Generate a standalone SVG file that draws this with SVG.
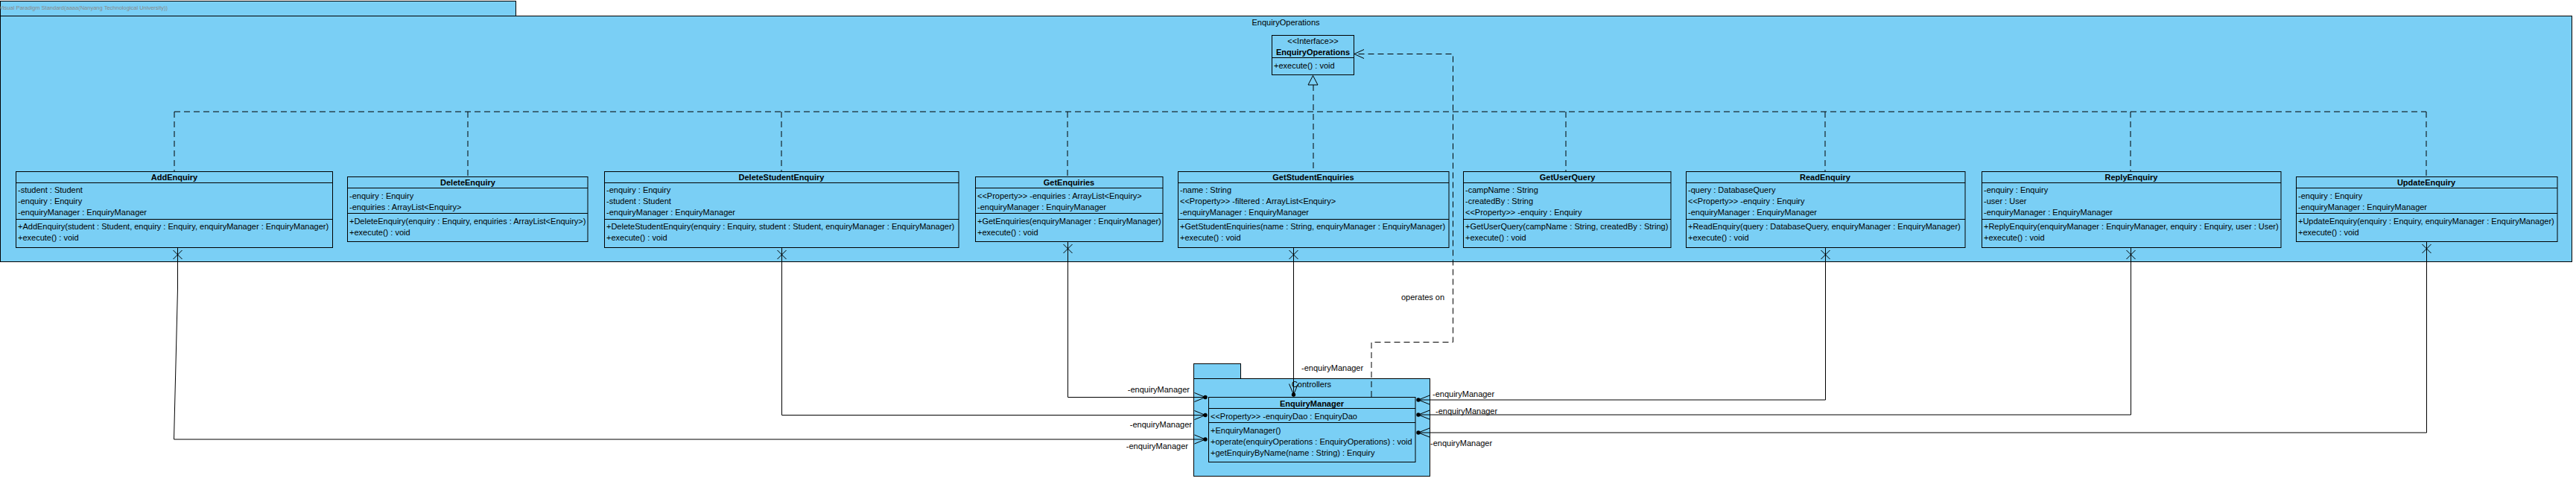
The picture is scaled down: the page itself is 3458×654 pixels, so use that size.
<svg xmlns="http://www.w3.org/2000/svg" width="3458" height="654" viewBox="0 0 3458 654">
<style>
.bg{fill:#fff}
.box{fill:#7ACFF5;stroke:#000;stroke-width:1}
.sep{stroke:#000;stroke-width:1}
.t{font-family:"Liberation Sans",Arial,sans-serif;font-size:11px;fill:#000}
.b{font-weight:bold}
.m{text-anchor:middle}
.e{text-anchor:end}
.wm{font-family:"Liberation Sans",Arial,sans-serif;font-size:7.5px;fill:#8a8a8a}
.ln{stroke:#000;stroke-width:1;fill:none}
.dash{stroke:#000;stroke-width:1;fill:none;stroke-dasharray:8 5}
.dot{fill:#000}
</style>
<rect class="bg" x="0" y="0" width="3458" height="654"/>

<g id="pkg-EnquiryOperations">
<rect class="box" x="0.5" y="1.5" width="692" height="20"/>
<text class="wm" x="-1" y="13">Visual Paradigm Standard(aaaa(Nanyang Technological University))</text>
<rect class="box" x="0.5" y="21.5" width="3452" height="330"/>
<text class="t m" x="1726" y="34">EnquiryOperations</text>
</g>

<g id="connectors-realization">
<path class="dash" d="M234,150 H3257"/>
<path class="dash" d="M234,150 V230 M628,150 V237.5 M1049,150 V230 M1433,150 V237.5 M1763,114 V230 M2102,150 V230 M2450,150 V230 M2860,150 V230 M3257,150 V237.5"/>
<path class="box" d="M1762.5,101.5 L1756,114 H1769 Z"/>
</g>

<g id="EnquiryOperationsInterface">
<rect class="box" x="1707.5" y="47.5" width="110" height="53"/>
<line class="sep" x1="1707.5" y1="77.5" x2="1817.5" y2="77.5"/>
<text class="t m" x="1762.5" y="59">&lt;&lt;Interface&gt;&gt;</text>
<text class="t m b" x="1762.5" y="74">EnquiryOperations</text>
<text class="t" x="1710" y="91.5">+execute() : void</text>
</g>

<g id="AddEnquiry">
<rect class="box" x="21.5" y="230.5" width="425" height="102"/>
<line class="sep" x1="21.5" y1="245.5" x2="446.5" y2="245.5"/>
<line class="sep" x1="21.5" y1="294.5" x2="446.5" y2="294.5"/>
<text class="t m b" x="234" y="242">AddEnquiry</text>
<text class="t" x="24" y="259">-student : Student</text>
<text class="t" x="24" y="274">-enquiry : Enquiry</text>
<text class="t" x="24" y="289">-enquiryManager : EnquiryManager</text>
<text class="t" x="24" y="308">+AddEnquiry(student : Student, enquiry : Enquiry, enquiryManager : EnquiryManager)</text>
<text class="t" x="24" y="323">+execute() : void</text>
</g>

<g id="DeleteEnquiry">
<rect class="box" x="466.5" y="237.5" width="322.5" height="87"/>
<line class="sep" x1="466.5" y1="252.5" x2="789" y2="252.5"/>
<line class="sep" x1="466.5" y1="286.5" x2="789" y2="286.5"/>
<text class="t m b" x="628" y="249">DeleteEnquiry</text>
<text class="t" x="469" y="266.5">-enquiry : Enquiry</text>
<text class="t" x="469" y="281.5">-enquiries : ArrayList&lt;Enquiry&gt;</text>
<text class="t" x="469" y="300.5">+DeleteEnquiry(enquiry : Enquiry, enquiries : ArrayList&lt;Enquiry&gt;)</text>
<text class="t" x="469" y="315.5">+execute() : void</text>
</g>

<g id="DeleteStudentEnquiry">
<rect class="box" x="811.5" y="230.5" width="475.5" height="102"/>
<line class="sep" x1="811.5" y1="245.5" x2="1287" y2="245.5"/>
<line class="sep" x1="811.5" y1="294.5" x2="1287" y2="294.5"/>
<text class="t m b" x="1049" y="242">DeleteStudentEnquiry</text>
<text class="t" x="814" y="259">-enquiry : Enquiry</text>
<text class="t" x="814" y="274">-student : Student</text>
<text class="t" x="814" y="289">-enquiryManager : EnquiryManager</text>
<text class="t" x="814" y="308">+DeleteStudentEnquiry(enquiry : Enquiry, student : Student, enquiryManager : EnquiryManager)</text>
<text class="t" x="814" y="323">+execute() : void</text>
</g>

<g id="GetEnquiries">
<rect class="box" x="1309.5" y="237.5" width="251.5" height="87"/>
<line class="sep" x1="1309.5" y1="252.5" x2="1561" y2="252.5"/>
<line class="sep" x1="1309.5" y1="286.5" x2="1561" y2="286.5"/>
<text class="t m b" x="1435" y="249">GetEnquiries</text>
<text class="t" x="1312" y="266.5">&lt;&lt;Property&gt;&gt; -enquiries : ArrayList&lt;Enquiry&gt;</text>
<text class="t" x="1312" y="281.5">-enquiryManager : EnquiryManager</text>
<text class="t" x="1312" y="300.5">+GetEnquiries(enquiryManager : EnquiryManager)</text>
<text class="t" x="1312" y="315.5">+execute() : void</text>
</g>

<g id="GetStudentEnquiries">
<rect class="box" x="1581.5" y="230.5" width="363.5" height="102"/>
<line class="sep" x1="1581.5" y1="245.5" x2="1945" y2="245.5"/>
<line class="sep" x1="1581.5" y1="294.5" x2="1945" y2="294.5"/>
<text class="t m b" x="1763" y="242">GetStudentEnquiries</text>
<text class="t" x="1584" y="259">-name : String</text>
<text class="t" x="1584" y="274">&lt;&lt;Property&gt;&gt; -filtered : ArrayList&lt;Enquiry&gt;</text>
<text class="t" x="1584" y="289">-enquiryManager : EnquiryManager</text>
<text class="t" x="1584" y="308">+GetStudentEnquiries(name : String, enquiryManager : EnquiryManager)</text>
<text class="t" x="1584" y="323">+execute() : void</text>
</g>

<g id="GetUserQuery">
<rect class="box" x="1964.5" y="230.5" width="278.5" height="102"/>
<line class="sep" x1="1964.5" y1="245.5" x2="2243" y2="245.5"/>
<line class="sep" x1="1964.5" y1="294.5" x2="2243" y2="294.5"/>
<text class="t m b" x="2104" y="242">GetUserQuery</text>
<text class="t" x="1967" y="259">-campName : String</text>
<text class="t" x="1967" y="274">-createdBy : String</text>
<text class="t" x="1967" y="289">&lt;&lt;Property&gt;&gt; -enquiry : Enquiry</text>
<text class="t" x="1967" y="308">+GetUserQuery(campName : String, createdBy : String)</text>
<text class="t" x="1967" y="323">+execute() : void</text>
</g>

<g id="ReadEnquiry">
<rect class="box" x="2263.5" y="230.5" width="374.5" height="102"/>
<line class="sep" x1="2263.5" y1="245.5" x2="2638" y2="245.5"/>
<line class="sep" x1="2263.5" y1="294.5" x2="2638" y2="294.5"/>
<text class="t m b" x="2450" y="242">ReadEnquiry</text>
<text class="t" x="2266" y="259">-query : DatabaseQuery</text>
<text class="t" x="2266" y="274">&lt;&lt;Property&gt;&gt; -enquiry : Enquiry</text>
<text class="t" x="2266" y="289">-enquiryManager : EnquiryManager</text>
<text class="t" x="2266" y="308">+ReadEnquiry(query : DatabaseQuery, enquiryManager : EnquiryManager)</text>
<text class="t" x="2266" y="323">+execute() : void</text>
</g>

<g id="ReplyEnquiry">
<rect class="box" x="2660.5" y="230.5" width="401.5" height="102"/>
<line class="sep" x1="2660.5" y1="245.5" x2="3062" y2="245.5"/>
<line class="sep" x1="2660.5" y1="294.5" x2="3062" y2="294.5"/>
<text class="t m b" x="2861" y="242">ReplyEnquiry</text>
<text class="t" x="2663" y="259">-enquiry : Enquiry</text>
<text class="t" x="2663" y="274">-user : User</text>
<text class="t" x="2663" y="289">-enquiryManager : EnquiryManager</text>
<text class="t" x="2663" y="308">+ReplyEnquiry(enquiryManager : EnquiryManager, enquiry : Enquiry, user : User)</text>
<text class="t" x="2663" y="323">+execute() : void</text>
</g>

<g id="UpdateEnquiry">
<rect class="box" x="3082.5" y="237.5" width="350.5" height="87"/>
<line class="sep" x1="3082.5" y1="252.5" x2="3433" y2="252.5"/>
<line class="sep" x1="3082.5" y1="286.5" x2="3433" y2="286.5"/>
<text class="t m b" x="3257" y="249">UpdateEnquiry</text>
<text class="t" x="3085" y="266.5">-enquiry : Enquiry</text>
<text class="t" x="3085" y="281.5">-enquiryManager : EnquiryManager</text>
<text class="t" x="3085" y="300.5">+UpdateEnquiry(enquiry : Enquiry, enquiryManager : EnquiryManager)</text>
<text class="t" x="3085" y="315.5">+execute() : void</text>
</g>

<g id="pkg-Controllers">
<rect class="box" x="1602.5" y="488.5" width="63" height="20"/>
<rect class="box" x="1602.5" y="508.5" width="317" height="131"/>
<text class="t m" x="1760.5" y="520">Controllers</text>
</g>

<g id="EnquiryManager">
<rect class="box" x="1622.5" y="533.5" width="277.5" height="87"/>
<line class="sep" x1="1622.5" y1="548.5" x2="1900" y2="548.5"/>
<line class="sep" x1="1622.5" y1="567.5" x2="1900" y2="567.5"/>
<text class="t m b" x="1761" y="545.5">EnquiryManager</text>
<text class="t" x="1625" y="562.5">&lt;&lt;Property&gt;&gt; -enquiryDao : EnquiryDao</text>
<text class="t" x="1625" y="582">+EnquiryManager()</text>
<text class="t" x="1625" y="597">+operate(enquiryOperations : EnquiryOperations) : void</text>
<text class="t" x="1625" y="612">+getEnquiryByName(name : String) : Enquiry</text>
</g>

<g id="connectors">
<path class="dash" d="M1841,533 V459.5 H1950.5 V72.5 H1818"/>
<path class="ln" d="M1831,66.5 L1818,72.5 L1831,78.5"/>
<text class="t" x="1881" y="403">operates on</text>

<path class="ln" d="M238.5,332 V387 L233.5,590 H1618"/>
<path class="ln" d="M1049.5,332 V557.5 H1618"/>
<path class="ln" d="M1433.5,324 V533.5 H1618"/>
<path class="ln" d="M1736.5,332 V530"/>
<path class="ln" d="M2450.5,332 V537 H1904"/>
<path class="ln" d="M2860.5,332 V557 H1904"/>
<path class="ln" d="M3257.5,324 V581 H1904"/>

<path class="ln" d="M232.5,336 L244.5,348 M244.5,336 L232.5,348"/>
<path class="ln" d="M1043.5,336 L1055.5,348 M1055.5,336 L1043.5,348"/>
<path class="ln" d="M1427.5,328 L1439.5,340 M1439.5,328 L1427.5,340"/>
<path class="ln" d="M1730.5,336 L1742.5,348 M1742.5,336 L1730.5,348"/>
<path class="ln" d="M2444.5,336 L2456.5,348 M2456.5,336 L2444.5,348"/>
<path class="ln" d="M2854.5,336 L2866.5,348 M2866.5,336 L2854.5,348"/>
<path class="ln" d="M3251.5,328 L3263.5,340 M3263.5,328 L3251.5,340"/>

<path class="ln" d="M1603.5,527.5 L1618,533.5 L1603.5,539.5"/>
<path class="ln" d="M1603.5,551.5 L1618,557.5 L1603.5,563.5"/>
<path class="ln" d="M1603.5,584 L1618,590 L1603.5,596"/>
<path class="ln" d="M1919,531 L1904,537 L1919,543"/>
<path class="ln" d="M1919,551 L1904,557 L1919,563"/>
<path class="ln" d="M1919,575 L1904,581 L1919,587"/>
<path class="ln" d="M1730.5,515.5 L1736.5,530 L1742.5,515.5"/>

<circle class="dot" cx="1618" cy="533.5" r="2.7"/>
<circle class="dot" cx="1618" cy="557.5" r="2.7"/>
<circle class="dot" cx="1618" cy="590" r="2.7"/>
<circle class="dot" cx="1904" cy="537" r="2.7"/>
<circle class="dot" cx="1904" cy="557" r="2.7"/>
<circle class="dot" cx="1904" cy="581" r="2.7"/>
<circle class="dot" cx="1736.5" cy="530" r="2.7"/>

<text class="t e" x="1597" y="527">-enquiryManager</text>
<text class="t e" x="1600" y="574">-enquiryManager</text>
<text class="t e" x="1595" y="603">-enquiryManager</text>
<text class="t" x="1923" y="533">-enquiryManager</text>
<text class="t" x="1927" y="556">-enquiryManager</text>
<text class="t" x="1920" y="598.5">-enquiryManager</text>
<text class="t" x="1747" y="498">-enquiryManager</text>
</g>
</svg>
